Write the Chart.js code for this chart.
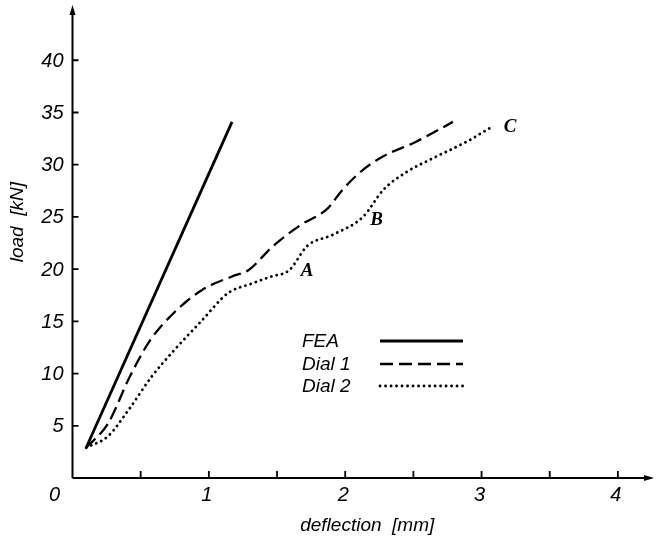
<!DOCTYPE html>
<html>
<head>
<meta charset="utf-8">
<script src="https://cdn.jsdelivr.net/npm/chart.js@4.4.1/dist/chart.umd.min.js"></script>
<style>
html,body{margin:0;padding:0;background:#fff;}
#wrap{width:662px;height:539px;position:relative;}
</style>
</head>
<body>
<div id="wrap"><canvas id="c" width="662" height="539"></canvas></div>
<script>
// ---- data ----
const feaX   = [0.10, 1.17];
const feaY   = [2.9, 34.1];
const dial1X = [0.10, 0.26, 0.42, 0.57, 0.75, 0.95, 1.17, 1.29, 1.47, 1.67, 1.87, 1.98, 2.13, 2.28, 2.52, 2.79];
const dial1Y = [2.9, 5.2, 9.7, 13.2, 15.9, 18.0, 19.3, 19.9, 22.2, 24.2, 25.8, 27.6, 29.5, 30.8, 32.2, 34.1];
const dial2X = [0.10, 0.26, 0.41, 0.58, 0.75, 0.95, 1.14, 1.31, 1.46, 1.59, 1.72, 1.91, 2.13, 2.28, 2.45, 2.64, 2.89, 3.06];
const dial2Y = [2.9, 4.0, 6.5, 9.7, 12.3, 15.1, 17.7, 18.6, 19.3, 19.9, 22.2, 23.3, 25.0, 27.6, 29.3, 30.6, 32.2, 33.5];
const seriesNames = ['FEA', 'Dial 1', 'Dial 2'];
const xTickValues = [0.5, 1, 1.5, 2, 2.5, 3, 3.5, 4];
const xTickLabels = ['0', '1', '2', '3', '4'];      // at 0,1,2,3,4
const yTickValues = [5, 10, 15, 20, 25, 30, 35, 40];
const yTickLabels = ['5', '10', '15', '20', '25', '30', '35', '40'];
const pointNames  = ['A', 'B', 'C'];
const pointAtX    = [1.72, 2.23, 3.21];
const pointAtY    = [19.8, 24.7, 33.6];
const xTitle = 'deflection  [mm]';
const yTitle = 'load  [kN]';

const toXY = (xs, ys) => xs.map((x, i) => ({x: x, y: ys[i]}));

const FONT = '"Liberation Sans", Arial, sans-serif';

const decor = {
  id: 'decor',
  afterDatasetsDraw(chart) {
    const ctx = chart.ctx, xs = chart.scales.x, ys = chart.scales.y;
    const x0 = xs.getPixelForValue(0), y0 = ys.getPixelForValue(0);
    const xEnd = xs.getPixelForValue(xs.max), yEnd = ys.getPixelForValue(ys.max);
    ctx.save();
    ctx.strokeStyle = '#000'; ctx.fillStyle = '#000'; ctx.lineWidth = 2;
    ctx.lineCap = 'butt';
    ctx.beginPath();
    ctx.moveTo(x0, y0); ctx.lineTo(xEnd - 4, y0);
    ctx.moveTo(x0, y0); ctx.lineTo(x0, yEnd + 4);
    ctx.stroke();
    // arrow heads
    ctx.beginPath();
    ctx.moveTo(xEnd + 2, y0); ctx.lineTo(xEnd - 8, y0 - 3); ctx.lineTo(xEnd - 8, y0 + 3); ctx.closePath(); ctx.fill();
    ctx.beginPath();
    ctx.moveTo(x0, yEnd - 2); ctx.lineTo(x0 - 3, yEnd + 8); ctx.lineTo(x0 + 3, yEnd + 8); ctx.closePath(); ctx.fill();
    // inward ticks
    ctx.lineWidth = 1.8;
    ctx.beginPath();
    xTickValues.forEach(v => { const p = xs.getPixelForValue(v); ctx.moveTo(p, y0); ctx.lineTo(p, y0 - 7); });
    yTickValues.forEach(v => { const p = ys.getPixelForValue(v); ctx.moveTo(x0, p); ctx.lineTo(x0 + 6, p); });
    ctx.stroke();
    // tick labels
    ctx.font = 'italic 20px ' + FONT;
    ctx.textBaseline = 'middle';
    ctx.textAlign = 'center';
    xTickLabels.forEach((t, i) => {
      const p = xs.getPixelForValue(i);
      ctx.fillText(t, i === 0 ? p - 18 : p - 2, y0 + 17);
    });
    ctx.textAlign = 'right';
    yTickValues.forEach((v, i) => {
      ctx.fillText(yTickLabels[i], x0 - 9, ys.getPixelForValue(v) + 1);
    });
    // axis titles
    ctx.font = 'italic 19px ' + FONT;
    ctx.textAlign = 'center';
    ctx.fillText(xTitle, (x0 + xEnd) / 2 + 5, y0 + 48);
    ctx.save();
    ctx.translate(18, ys.getPixelForValue(24.5));
    ctx.rotate(-Math.PI / 2);
    ctx.fillText(yTitle, 0, 0);
    ctx.restore();
    // point labels A B C
    ctx.font = 'italic bold 19px "Liberation Serif", "Times New Roman", serif';
    pointNames.forEach((n, i) => {
      ctx.fillText(n, xs.getPixelForValue(pointAtX[i]), ys.getPixelForValue(pointAtY[i]));
    });
    // legend
    ctx.font = 'italic 19px ' + FONT;
    ctx.textAlign = 'left';
    const lx = 302, ly = [342, 365, 387];
    chart.data.datasets.forEach((ds, i) => {
      ctx.fillText(ds.label, lx, ly[i]);
      ctx.beginPath();
      ctx.strokeStyle = '#000';
      ctx.lineWidth = ds.borderWidth;
      ctx.setLineDash(ds.borderDash || []);
      ctx.lineCap = ds.borderCapStyle || 'butt';
      ctx.moveTo(380, ly[i] - 1); ctx.lineTo(463, ly[i] - 1);
      ctx.stroke();
    });
    ctx.restore();
  }
};

new Chart(document.getElementById('c'), {
  type: 'scatter',
  data: {
    datasets: [
      { label: seriesNames[0], data: toXY(feaX, feaY), showLine: true, borderColor: '#000', borderWidth: 2.8, pointRadius: 0, tension: 0 },
      { label: seriesNames[1], data: toXY(dial1X, dial1Y), showLine: true, borderColor: '#000', borderWidth: 2.3, borderDash: [13, 6], pointRadius: 0, cubicInterpolationMode: 'monotone' },
      { label: seriesNames[2], data: toXY(dial2X, dial2Y), showLine: true, borderColor: '#000', borderWidth: 2.8, borderDash: [0.1, 5.4], borderCapStyle: 'round', pointRadius: 0, cubicInterpolationMode: 'monotone' }
    ]
  },
  options: {
    responsive: false,
    animation: false,
    layout: { padding: { top: 7, right: 10, left: 0, bottom: 0 } },
    plugins: { legend: { display: false }, tooltip: { enabled: false } },
    scales: {
      x: {
        type: 'linear', min: 0, max: 4.25,
        grid: { display: false, drawTicks: false }, border: { display: false },
        ticks: { display: false },
        afterFit(s) { s.height = 61; }
      },
      y: {
        type: 'linear', min: 0, max: 45.1,
        grid: { display: false, drawTicks: false }, border: { display: false },
        ticks: { display: false },
        afterFit(s) { s.width = 72.5; }
      }
    }
  },
  plugins: [decor]
});
</script>
</body>
</html>
